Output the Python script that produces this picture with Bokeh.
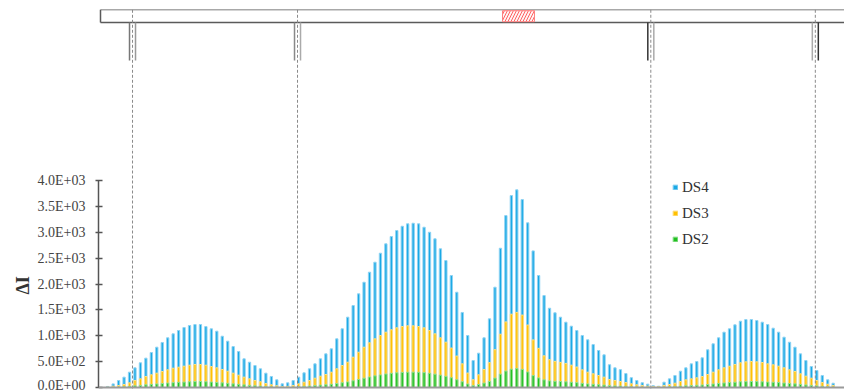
from bokeh.plotting import figure
from bokeh.models import Range1d, FixedTicker, Span, Legend, LegendItem, ColumnDataSource, Title
from bokeh.layouts import column
from bokeh.embed import file_html
from bokeh.resources import INLINE

# ---------------- data ----------------
ds4 = [20, 70, 135, 200, 296, 380, 477, 567, 676, 779,
       870, 960, 1037, 1101, 1159, 1198, 1217, 1217, 1178, 1134,
       1088, 991, 895, 792, 695, 554, 489, 425, 361, 277,
       213, 148, 71, 90, 135, 200, 283, 361, 457, 554,
       650, 747, 940, 1134, 1359, 1584, 1810, 2034, 2228, 2421,
       2595, 2776, 2917, 3033, 3116, 3163, 3174, 3163, 3097, 3000,
       2873, 2680, 2454, 2164, 1841, 1450, 1005, 522, 663, 960,
       1327, 1938, 2691, 3323, 3709, 3819, 3632, 3182, 2640, 2164,
       1777, 1532, 1443, 1359, 1262, 1185, 1101, 1005, 921, 831,
       715, 631, 440, 380, 345, 270, 190, 135, 93, 65,
       36, 25, 103, 167, 232, 315, 380, 457, 502, 573,
       728, 844, 960, 1069, 1134, 1211, 1281, 1314, 1314, 1294,
       1262, 1217, 1146, 1069, 972, 875, 779, 650, 522, 406,
       328, 232, 148, 83]
ds3 = [8, 25, 38, 58, 90, 135, 167, 212, 245, 277,
       309, 341, 373, 393, 412, 431, 444, 444, 431, 405,
       380, 348, 315, 277, 238, 200, 167, 135, 110, 77,
       52, 33, 19, 22, 39, 71, 103, 135, 180, 219,
       251, 296, 361, 425, 489, 586, 682, 779, 863, 940,
       1005, 1069, 1115, 1153, 1178, 1192, 1192, 1178, 1153, 1101,
       1037, 960, 876, 763, 608, 457, 280, 150, 245, 348,
       480, 731, 1030, 1268, 1417, 1452, 1400, 1208, 920, 757,
       612, 537, 505, 486, 466, 432, 396, 341, 296, 264,
       232, 200, 155, 135, 116, 97, 71, 52, 39, 26,
       19, 19, 39, 58, 83, 116, 148, 167, 187, 212,
       251, 296, 341, 380, 412, 444, 477, 496, 502, 496,
       483, 457, 438, 412, 380, 341, 309, 264, 219, 180,
       135, 97, 64, 39]
ds2 = [2, 6, 9, 14, 22, 33, 41, 53, 61, 70,
       78, 86, 94, 100, 105, 110, 115, 116, 112, 105,
       98, 90, 81, 71, 61, 51, 42, 34, 27, 19,
       13, 8, 5, 5, 9, 16, 22, 29, 38, 46,
       54, 63, 77, 92, 108, 130, 155, 180, 203, 225,
       243, 262, 275, 285, 292, 296, 297, 294, 288, 275,
       258, 238, 216, 188, 150, 112, 68, 36, 58, 85,
       118, 182, 258, 318, 355, 365, 350, 300, 230, 185,
       148, 128, 120, 115, 110, 102, 94, 80, 70, 62,
       54, 47, 36, 31, 27, 22, 16, 12, 9, 6,
       4, 4, 9, 13, 19, 26, 34, 38, 43, 49,
       58, 68, 79, 88, 95, 102, 110, 114, 116, 114,
       111, 105, 101, 95, 87, 78, 71, 60, 50, 41,
       31, 22, 15, 9]
positions = list(range(len(ds4)))
series_names = ["DS4", "DS3", "DS2"]
boundaries = [4.55, 34.80, 99.57, 129.73]
highlight = [72.38, 78.25]
ytick_values = [0, 500, 1000, 1500, 2000, 2500, 3000, 3500, 4000]
ytick_labels = ["0.0E+00", "5.0E+02", "1.0E+03", "1.5E+03", "2.0E+03",
                "2.5E+03", "3.0E+03", "3.5E+03", "4.0E+03"]
y_title = "ΔI"

# ---------------- layout ----------------
W = 844
xr = Range1d(-1.687, 135.08)
SERIF = "Liberation Serif"

# top annotation strip (y in screen pixels)
top = figure(width=W, height=150, x_range=xr, y_range=Range1d(150, 0),
             x_axis_type=None, y_axis_type=None, output_backend="svg",
             toolbar_location=None, min_border_left=98, min_border_right=0,
             min_border_top=0, min_border_bottom=0)
top.grid.visible = False
top.outline_line_color = None

top.quad(left=[-1.32], right=[140], top=[9.3], bottom=[22], fill_color="white", line_color=None)
top.segment(x0=[-1.32], y0=[9.3], x1=[140], y1=[9.3], line_color="#a8a8a8", line_width=1.5)
top.segment(x0=[-1.32], y0=[22], x1=[140], y1=[22], line_color="#5a5a5a", line_width=1.5)
top.segment(x0=[-1.32], y0=[9.3], x1=[-1.32], y1=[22], line_color="#5a5a5a", line_width=1.5)
top.quad(left=[highlight[0]], right=[highlight[1]], top=[10.2], bottom=[21.2],
         fill_color="#fff4f4", line_color="#ff8080", line_width=1,
         hatch_pattern="/", hatch_color="#ff6060", hatch_scale=6, hatch_weight=1)
off = 0.55
top.segment(x0=[b - off for b in boundaries], y0=[22] * 4, x1=[b - off for b in boundaries], y1=[60] * 4,
            line_color=["#777777", "#888888", "#333333", "#aaaaaa"], line_width=1.5)
top.segment(x0=[b + off for b in boundaries], y0=[22] * 4, x1=[b + off for b in boundaries], y1=[60] * 4,
            line_color=["#999999", "#aaaaaa", "#aaaaaa", "#333333"], line_width=1.5)
top.segment(x0=boundaries, y0=[9.3] * 4, x1=boundaries, y1=[150] * 4,
            line_color="#8a8a8a", line_width=1, line_dash="3 2")

# main bar chart
p = figure(width=W, height=242, x_range=xr, y_range=Range1d(-38.6, 4579.7),
           x_axis_type=None, output_backend="svg", toolbar_location=None,
           min_border_left=98, min_border_right=0, min_border_top=0, min_border_bottom=3)
p.grid.visible = False
p.outline_line_color = None
p.background_fill_color = "white"

src = ColumnDataSource(dict(x=positions, ds4=ds4, ds3=ds3, ds2=ds2))
colors = {"DS4": ("#19a9e5", "#8fd3f3"), "DS3": ("#ffc000", "#ffdf85"), "DS2": ("#20bf20", "#94e094")}
renderers = {}
for name, col in zip(series_names, ["ds4", "ds3", "ds2"]):
    fc, lc = colors[name]
    renderers[name] = p.vbar(x="x", top=col, bottom=0, width=0.42, source=src,
                             fill_color=fc, line_color=lc, line_width=1)

for b in boundaries:
    p.add_layout(Span(location=b, dimension="height", line_color="#8a8a8a",
                      line_width=1, line_dash="3 2"))
p.add_layout(Span(location=0, dimension="width", line_color="#9a9a9a", line_width=2))

ya = p.yaxis[0]
ya.ticker = FixedTicker(ticks=ytick_values)
ya.major_label_overrides = {v: s for v, s in zip(ytick_values, ytick_labels)}
ya.bounds = (0, 4000)
ya.axis_line_color = "#555555"
ya.axis_line_width = 1.5
ya.major_tick_line_color = "#555555"
ya.major_tick_line_width = 1.5
ya.major_tick_in = 4
ya.major_tick_out = 3
ya.minor_tick_line_color = None
ya.major_label_standoff = 10
ya.major_label_text_font = SERIF
ya.major_label_text_font_size = "14px"
ya.major_label_text_color = "#444444"

# y-axis title, placed along the 0..4000 span
p.add_layout(Title(text=y_title, align="left", offset=95, standoff=4,
                   text_font=SERIF, text_font_style="bold", text_font_size="18px",
                   text_color="#333333"), "left")

legend = Legend(items=[LegendItem(label=n, renderers=[renderers[n]]) for n in series_names],
                location=(574, 139), padding=0, margin=0, border_line_color=None,
                background_fill_alpha=0, glyph_width=6, glyph_height=6,
                label_height=22, spacing=4, label_standoff=4,
                label_text_font=SERIF, label_text_font_size="15px",
                label_text_color="#333333")
p.add_layout(legend)

layout = column(top, p, spacing=0)
open("out.html", "w").write(file_html(layout, INLINE))
